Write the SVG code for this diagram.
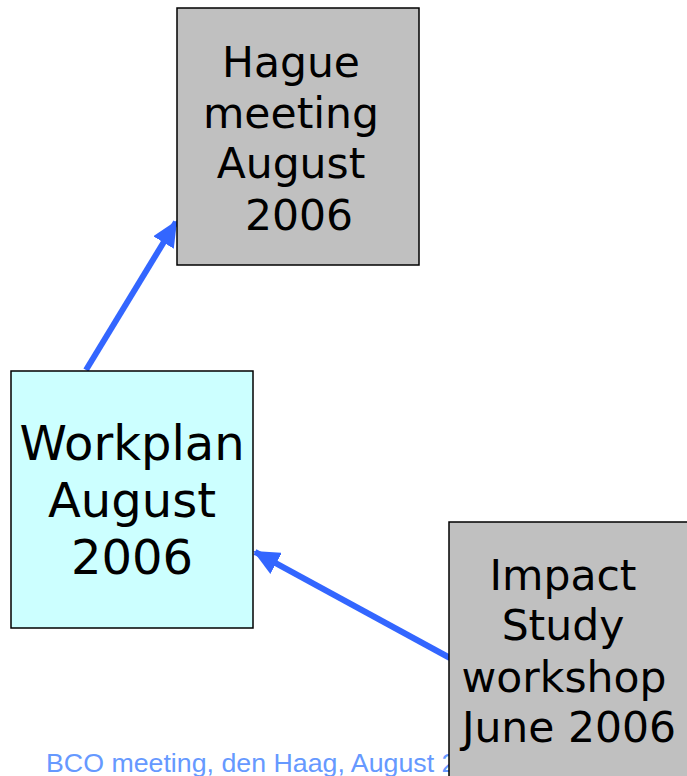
<svg xmlns="http://www.w3.org/2000/svg" width="687" height="776" viewBox="0 0 687 776">
<style>
.box{stroke:#000;stroke-width:1.5}
.gray{fill:#c0c0c0}
.cyan{fill:#ccffff}
.lbl{font-family:"DejaVu Sans",Verdana,sans-serif;font-size:42.5px;fill:#000;text-anchor:middle}
.big{font-size:48px}
.conn{stroke:#3366ff;stroke-width:6;fill:none}
.foot{font-family:"Liberation Sans",Arial,sans-serif;font-size:26px;fill:#6699ff}
</style>
<defs>
<marker id="ah" markerUnits="userSpaceOnUse" markerWidth="26" markerHeight="24" refX="24" refY="12" orient="auto">
<path d="M0,0 L26,12 L0,24 Z" fill="#3366ff"/>
</marker>
</defs>
<rect width="687" height="776" fill="#fff"/>
<text class="foot" x="46" y="772" textLength="455" lengthAdjust="spacingAndGlyphs">BCO meeting, den Haag, August 2006</text>
<g id="connectors">
<line class="conn" x1="86" y1="370" x2="176" y2="222" marker-end="url(#ah)"/>
<line class="conn" x1="450" y1="658" x2="255" y2="552" marker-end="url(#ah)"/>
</g>
<g id="hague">
<rect class="box gray" x="177" y="8" width="242" height="257"/>
<text class="lbl" x="291" y="77">Hague</text>
<text class="lbl" x="291" y="128">meeting</text>
<text class="lbl" x="291" y="178">August</text>
<text class="lbl" x="299" y="230">2006</text>
</g>
<g id="workplan">
<rect class="box cyan" x="11" y="371" width="242" height="257"/>
<text class="lbl big" x="132" y="460">Workplan</text>
<text class="lbl big" x="132" y="517">August</text>
<text class="lbl big" x="132" y="574">2006</text>
</g>
<g id="impact">
<rect class="box gray" x="449" y="522" width="245" height="262"/>
<text class="lbl" x="563" y="590">Impact</text>
<text class="lbl" x="563" y="640">Study</text>
<text class="lbl" x="564" y="692">workshop</text>
<text class="lbl" x="569" y="742">June 2006</text>
</g>
</svg>
